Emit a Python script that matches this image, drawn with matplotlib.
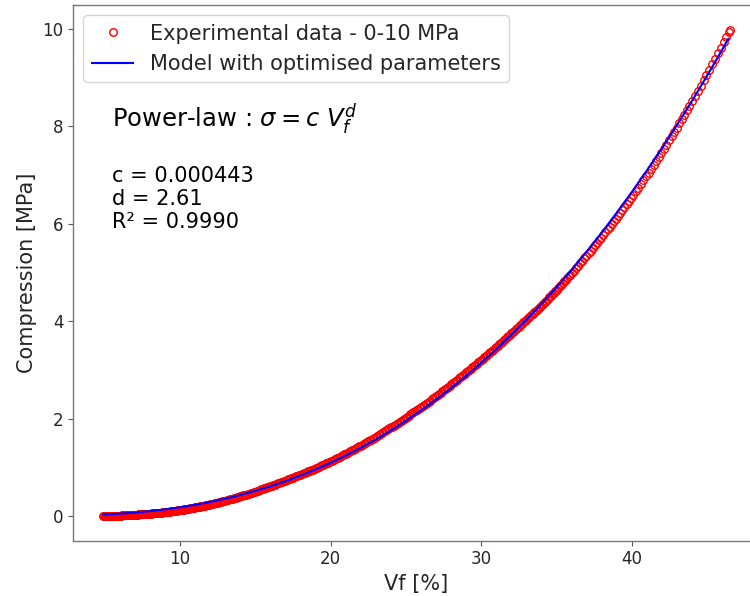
import matplotlib
matplotlib.use("Agg")
import matplotlib.pyplot as plt

# ---------------- data ----------------
vf_low = [4.9, 5.0, 5.1, 5.2, 5.3, 5.4, 5.5, 5.6, 5.7, 5.8, 5.9,
          6.0, 6.1, 6.2, 6.3, 6.4, 6.5, 6.6, 6.7, 6.8, 6.9,
          7.0, 7.1, 7.2, 7.3, 7.4, 7.5, 7.6, 7.7, 7.8, 7.9,
          8.0, 8.1, 8.2, 8.3, 8.4, 8.5, 8.6, 8.7, 8.8, 8.9,
          9.0, 9.1, 9.2, 9.3, 9.4, 9.5, 9.6, 9.7, 9.8, 9.9,
          10.0, 10.1, 10.2, 10.3, 10.4, 10.5, 10.6, 10.7, 10.8, 10.9,
          11.0, 11.1, 11.2, 11.3, 11.4, 11.5, 11.6, 11.7, 11.8, 11.9, 12.0]
sig_low = [0.000, 0.000, 0.001, 0.001, 0.002, 0.002, 0.003, 0.004, 0.005, 0.006, 0.008,
           0.009, 0.010, 0.012, 0.013, 0.015, 0.016, 0.018, 0.020, 0.022, 0.024,
           0.026, 0.028, 0.030, 0.032, 0.034, 0.036, 0.038, 0.041, 0.043, 0.046,
           0.048, 0.051, 0.053, 0.056, 0.058, 0.061, 0.064, 0.067, 0.070, 0.073,
           0.076, 0.080, 0.084, 0.088, 0.093, 0.097, 0.101, 0.106, 0.110, 0.115,
           0.119, 0.124, 0.130, 0.135, 0.141, 0.146, 0.152, 0.158, 0.163, 0.169,
           0.175, 0.181, 0.187, 0.193, 0.199, 0.205, 0.212, 0.218, 0.225, 0.231, 0.238]

vf_low_b = [4.95, 5.05, 5.15, 5.25, 5.35, 5.45, 5.55, 5.65, 5.75, 5.85, 5.95,
            6.05, 6.15, 6.25, 6.35, 6.45, 6.55, 6.65, 6.75, 6.85, 6.95,
            7.05, 7.15, 7.25, 7.35, 7.45, 7.55, 7.65, 7.75, 7.85, 7.95,
            8.05, 8.15, 8.25, 8.35, 8.45, 8.55, 8.65, 8.75, 8.85, 8.95,
            9.05, 9.15, 9.25, 9.35, 9.45, 9.55, 9.65, 9.75, 9.85, 9.95,
            10.05, 10.15, 10.25, 10.35, 10.45, 10.55, 10.65, 10.75, 10.85, 10.95,
            11.05, 11.15, 11.25, 11.35, 11.45, 11.55, 11.65, 11.75, 11.85, 11.95]
sig_low_b = [0.000, 0.001, 0.001, 0.002, 0.002, 0.003, 0.004, 0.005, 0.006, 0.007, 0.009,
             0.010, 0.011, 0.013, 0.014, 0.016, 0.017, 0.019, 0.021, 0.023, 0.025,
             0.027, 0.029, 0.031, 0.033, 0.035, 0.037, 0.040, 0.042, 0.045, 0.047,
             0.050, 0.052, 0.055, 0.057, 0.060, 0.063, 0.066, 0.069, 0.072, 0.075,
             0.078, 0.082, 0.086, 0.091, 0.095, 0.099, 0.104, 0.108, 0.113, 0.117,
             0.122, 0.127, 0.133, 0.138, 0.144, 0.149, 0.155, 0.161, 0.166, 0.172,
             0.178, 0.184, 0.190, 0.196, 0.202, 0.209, 0.215, 0.222, 0.228, 0.235]

vf_mid = [12.2, 12.4, 12.6, 12.8, 13.0, 13.2, 13.4, 13.6, 13.8, 14.0,
          14.2, 14.4, 14.6, 14.8, 15.0, 15.2, 15.4, 15.6, 15.8, 16.0,
          16.2, 16.4, 16.6, 16.8, 17.0, 17.2, 17.4, 17.6, 17.8, 18.0,
          18.2, 18.4, 18.6, 18.8, 19.0, 19.2, 19.4, 19.6, 19.8, 20.0,
          20.2, 20.4, 20.6, 20.8, 21.0, 21.2, 21.4, 21.6, 21.8, 22.0,
          22.2, 22.4, 22.6, 22.8, 23.0, 23.2, 23.4, 23.6, 23.8, 24.0,
          24.2, 24.4, 24.6, 24.8, 25.0, 25.2, 25.4, 25.6, 25.8, 26.0,
          26.2, 26.4, 26.6, 26.8, 27.0, 27.2, 27.4, 27.6, 27.8, 28.0,
          28.2, 28.4, 28.6, 28.8, 29.0, 29.2, 29.4, 29.6, 29.8, 30.0,
          30.2, 30.4, 30.6, 30.8, 31.0, 31.2, 31.4, 31.6, 31.8, 32.0,
          32.2, 32.4, 32.6, 32.8, 33.0, 33.2, 33.4, 33.6, 33.8, 34.0,
          34.2, 34.4, 34.6, 34.8, 35.0, 35.2, 35.4, 35.6, 35.8, 36.0]
sig_mid = [0.253, 0.269, 0.284, 0.300, 0.315, 0.332, 0.349, 0.367, 0.384, 0.401,
           0.421, 0.441, 0.461, 0.481, 0.501, 0.523, 0.545, 0.566, 0.588, 0.610,
           0.633, 0.656, 0.679, 0.702, 0.725, 0.750, 0.775, 0.800, 0.825, 0.850,
           0.876, 0.902, 0.928, 0.954, 0.980, 1.008, 1.037, 1.065, 1.094, 1.122,
           1.153, 1.184, 1.216, 1.247, 1.278, 1.311, 1.345, 1.378, 1.412, 1.445,
           1.481, 1.517, 1.552, 1.588, 1.624, 1.663, 1.701, 1.740, 1.778, 1.817,
           1.857, 1.898, 1.938, 1.979, 2.019, 2.062, 2.105, 2.149, 2.192, 2.235,
           2.280, 2.325, 2.370, 2.415, 2.460, 2.508, 2.557, 2.605, 2.654, 2.702,
           2.751, 2.800, 2.848, 2.897, 2.946, 2.998, 3.049, 3.101, 3.152, 3.204,
           3.257, 3.310, 3.362, 3.415, 3.468, 3.524, 3.580, 3.637, 3.693, 3.749,
           3.805, 3.861, 3.918, 3.974, 4.030, 4.089, 4.148, 4.208, 4.267, 4.326,
           4.390, 4.454, 4.519, 4.583, 4.647, 4.714, 4.782, 4.849, 4.917, 4.984]

vf_mid_b = [12.1, 12.3, 12.5, 12.7, 12.9, 13.1, 13.3, 13.5, 13.7, 13.9,
            14.1, 14.3, 14.5, 14.7, 14.9, 15.1, 15.3, 15.5, 15.7, 15.9,
            16.1, 16.3, 16.5, 16.7, 16.9, 17.1, 17.3, 17.5, 17.7, 17.9,
            18.1, 18.3, 18.5, 18.7, 18.9, 19.1, 19.3, 19.5, 19.7, 19.9,
            20.1, 20.3, 20.5, 20.7, 20.9, 21.1, 21.3, 21.5, 21.7, 21.9,
            22.1, 22.3, 22.5, 22.7, 22.9, 23.1, 23.3, 23.5, 23.7, 23.9,
            24.1, 24.3, 24.5, 24.7, 24.9, 25.1, 25.3, 25.5, 25.7, 25.9,
            26.1, 26.3, 26.5, 26.7, 26.9, 27.1, 27.3, 27.5, 27.7, 27.9,
            28.1, 28.3, 28.5, 28.7, 28.9, 29.1, 29.3, 29.5, 29.7, 29.9,
            30.1, 30.3, 30.5, 30.7, 30.9, 31.1, 31.3, 31.5, 31.7, 31.9,
            32.1, 32.3, 32.5, 32.7, 32.9, 33.1, 33.3, 33.5, 33.7, 33.9,
            34.1, 34.3, 34.5, 34.7, 34.9, 35.1, 35.3, 35.5, 35.7, 35.9]
sig_mid_b = [0.246, 0.261, 0.277, 0.292, 0.308, 0.324, 0.341, 0.358, 0.376, 0.393,
             0.411, 0.431, 0.451, 0.471, 0.491, 0.512, 0.534, 0.556, 0.577, 0.599,
             0.622, 0.645, 0.668, 0.691, 0.714, 0.738, 0.763, 0.788, 0.813, 0.838,
             0.863, 0.889, 0.915, 0.941, 0.967, 0.994, 1.023, 1.051, 1.080, 1.108,
             1.138, 1.169, 1.200, 1.232, 1.263, 1.295, 1.328, 1.362, 1.395, 1.429,
             1.463, 1.499, 1.535, 1.570, 1.606, 1.644, 1.682, 1.721, 1.759, 1.798,
             1.837, 1.878, 1.918, 1.959, 1.999, 2.041, 2.084, 2.127, 2.171, 2.214,
             2.258, 2.303, 2.348, 2.393, 2.438, 2.484, 2.533, 2.581, 2.630, 2.678,
             2.727, 2.776, 2.824, 2.873, 2.922, 2.972, 3.024, 3.075, 3.127, 3.178,
             3.231, 3.284, 3.336, 3.389, 3.442, 3.496, 3.552, 3.609, 3.665, 3.721,
             3.777, 3.833, 3.890, 3.946, 4.002, 4.060, 4.119, 4.178, 4.238, 4.297,
             4.358, 4.422, 4.487, 4.551, 4.615, 4.681, 4.748, 4.816, 4.883, 4.951]

vf_high = [36.14, 36.28, 36.42, 36.56, 36.70, 36.84, 36.98, 37.12, 37.26, 37.40,
           37.54, 37.68, 37.82, 37.96, 38.10, 38.24, 38.38, 38.52, 38.66, 38.80,
           38.94, 39.08, 39.22, 39.36, 39.50, 39.64, 39.78, 39.92,
           40.08, 40.25, 40.42, 40.59, 40.76, 40.93, 41.10, 41.27, 41.44, 41.61,
           41.78, 41.95, 42.12, 42.29, 42.46, 42.63, 42.80, 42.97, 43.14, 43.31,
           43.48, 43.65, 43.82, 43.99,
           44.18, 44.37, 44.56, 44.75, 44.94, 45.13, 45.32, 45.51, 45.70, 45.89,
           46.08, 46.27, 46.42, 46.48]
sig_high = [5.035, 5.086, 5.138, 5.189, 5.240, 5.291, 5.343, 5.396, 5.449, 5.502,
            5.555, 5.608, 5.662, 5.715, 5.770, 5.826, 5.882, 5.937, 5.993, 6.049,
            6.105, 6.163, 6.222, 6.282, 6.341, 6.400, 6.460, 6.519,
            6.589, 6.665, 6.741, 6.817, 6.893, 6.970, 7.048, 7.129, 7.210, 7.290,
            7.371, 7.451, 7.536, 7.622, 7.709, 7.795, 7.881, 7.968, 8.058, 8.149,
            8.240, 8.331, 8.422, 8.513,
            8.620, 8.728, 8.836, 8.943, 9.051, 9.162, 9.274, 9.386, 9.499, 9.611,
            9.725, 9.842, 9.934, 9.975]

vf_model = [4.9, 5.0, 5.5, 6.0, 6.5, 7.0, 7.5, 8.0, 8.5, 9.0, 9.5, 10.0, 10.5, 11.0,
            11.5, 12, 13, 14, 15, 16, 17, 18, 19, 20, 21, 22, 23, 24, 25, 26, 27,
            28, 29, 30, 31, 32, 33, 34, 35, 36, 37, 38, 39, 40, 41, 42, 43, 44, 45,
            46, 46.4]
sig_model = [0.0279, 0.0294, 0.0377, 0.0473, 0.0583, 0.0707, 0.0847, 0.1002, 0.1174,
             0.1362, 0.1568, 0.1792, 0.2035, 0.2297, 0.2580, 0.2883, 0.3551, 0.4309,
             0.5158, 0.6103, 0.7149, 0.8299, 0.9553, 1.0922, 1.2398, 1.400, 1.572,
             1.757, 1.954, 2.165, 2.387, 2.627, 2.876, 3.144, 3.423, 3.719, 4.030,
             4.356, 4.697, 5.054, 5.430, 5.820, 6.229, 6.653, 7.096, 7.555, 8.033,
             8.528, 9.045, 9.576, 9.798]

x_ticks = [10, 20, 30, 40]
y_ticks = [0, 2, 4, 6, 8, 10]

label_data = "Experimental data - 0-10 MPa"
label_model = "Model with optimised parameters"
title_text = r"Power-law : $\sigma = c\ V_f^d$"
param_text = "c = 0.000443\nd = 2.61\nR\u00b2 = 0.9990"

vf_data = vf_low + vf_low_b + vf_mid + vf_mid_b + vf_high
sig_data = sig_low + sig_low_b + sig_mid + sig_mid_b + sig_high

# ---------------- figure ----------------
TXT = "#262626"
fig = plt.figure(figsize=(7.5, 5.96), dpi=100)
ax = fig.add_axes([73 / 750, (596 - 540.7) / 596, 687 / 750, 535.7 / 596])

ax.plot(vf_data, sig_data, linestyle="none", marker="o", markersize=5.4,
        markerfacecolor="none", markeredgecolor="red", markeredgewidth=1.0,
        label=label_data)
ax.plot(vf_model, sig_model, color="blue", linewidth=1.5, label=label_model)

ax.set_xlim(2.9, 48.5)
ax.set_ylim(-0.507, 10.49)
ax.set_xticks(x_ticks)
ax.set_yticks(y_ticks)
ax.tick_params(labelsize=12, colors="#555555", labelcolor=TXT)
for s in ax.spines.values():
    s.set_color("#777777")
    s.set_linewidth(1.0)

ax.set_xlabel("Vf [%]", fontsize=15, color=TXT)
ax.set_ylabel("Compression [MPa]", fontsize=15, color=TXT)

leg = ax.legend(loc="upper left", fontsize=15)
for t in leg.get_texts():
    t.set_color(TXT)

ax.text(5.5, 7.97, title_text, fontsize=17.5, color="black", va="baseline")
ax.text(5.5, 5.91, param_text, fontsize=15, color="black", va="baseline")

fig.savefig("out.png", dpi=100)
